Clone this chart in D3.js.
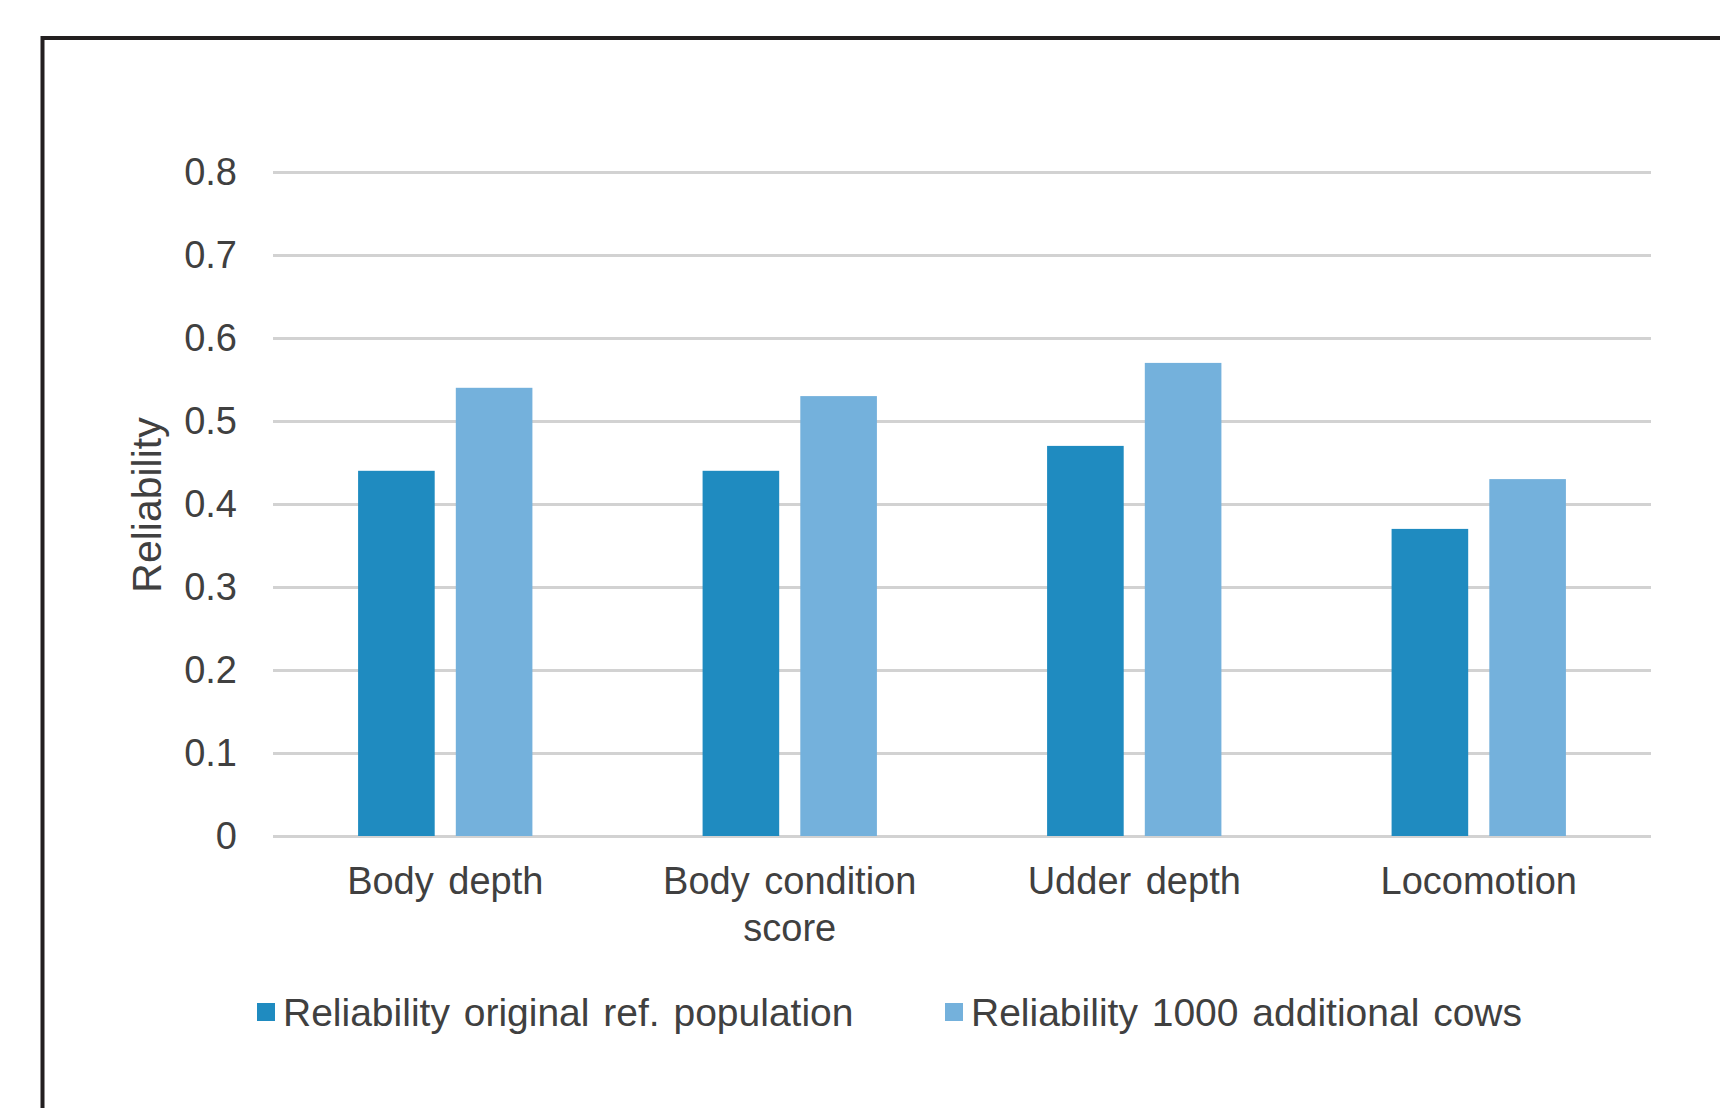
<!DOCTYPE html>
<html>
<head>
<meta charset="utf-8">
<script src="https://cdn.jsdelivr.net/npm/d3@7"></script>
<style>
  body { margin: 0; background: #fff; }
  svg text { font-family: "Liberation Sans", Arial, sans-serif; fill: #404040; }
</style>
</head>
<body>
<div id="vis"></div>
<script>
const FRAME_WIDTH = 1720;
const FRAME_HEIGHT = 1108;
const MARGINS = {left: 273, right: 69, top: 172, bottom: 272};

// data
const CATEGORIES = [["Body depth"], ["Body condition", "score"], ["Udder depth"], ["Locomotion"]];
const SERIES = ["Reliability original ref. population", "Reliability 1000 additional cows"];
const ORIGINAL = [0.44, 0.44, 0.47, 0.37];
const ADDITIONAL = [0.54, 0.53, 0.57, 0.43];
const Y_TICKS = [0, 0.1, 0.2, 0.3, 0.4, 0.5, 0.6, 0.7, 0.8];
const COLORS = ["#1f8bc0", "#74b1dc"];

const VIS_WIDTH = FRAME_WIDTH - MARGINS.left - MARGINS.right;
const VIS_HEIGHT = FRAME_HEIGHT - MARGINS.top - MARGINS.bottom;

const FRAME = d3.select("#vis")
                .append("svg")
                  .attr("width", FRAME_WIDTH)
                  .attr("height", FRAME_HEIGHT);

// outer frame, runs off the right and bottom edge like the scan
FRAME.append("rect")
     .attr("x", 42.5).attr("y", 38)
     .attr("width", FRAME_WIDTH).attr("height", FRAME_HEIGHT)
     .attr("fill", "none")
     .attr("stroke", "#231f20")
     .attr("stroke-width", 4);

const keys = CATEGORIES.map(d => d.join(" "));
const rows = keys.map((k, i) => ({key: k, values: [ORIGINAL[i], ADDITIONAL[i]]}));

const X_SCALE = d3.scaleBand()
                  .domain(keys)
                  .range([0, VIS_WIDTH])
                  .paddingInner(0.494)
                  .paddingOuter(0.247);

const X_INNER = d3.scaleBand()
                  .domain([0, 1])
                  .range([0, X_SCALE.bandwidth()])
                  .paddingInner(0.216);

const Y_SCALE = d3.scaleLinear()
                  .domain([0, 0.8])
                  .range([VIS_HEIGHT, 0]);

const PLOT = FRAME.append("g")
                  .attr("transform", "translate(" + MARGINS.left + "," + MARGINS.top + ")");

// gridlines + tick labels
const yAxis = PLOT.append("g")
    .call(d3.axisLeft(Y_SCALE)
            .tickValues(Y_TICKS)
            .tickSize(-VIS_WIDTH)
            .tickPadding(36)
            .tickFormat(d => d === 0 ? "0" : d3.format(".1f")(d)));
yAxis.select(".domain").remove();
yAxis.selectAll("line").attr("stroke", "#d2d2d2").attr("stroke-width", 3);
yAxis.selectAll("text").attr("font-size", "38px").attr("fill", "#404040");

// bars
PLOT.selectAll(".grp")
    .data(rows)
    .enter()
    .append("g")
      .attr("transform", d => "translate(" + X_SCALE(d.key) + ",0)")
    .selectAll("rect")
    .data(d => d.values.map((v, j) => ({j: j, v: v})))
    .enter()
    .append("rect")
      .attr("x", d => X_INNER(d.j))
      .attr("y", d => Y_SCALE(d.v))
      .attr("width", X_INNER.bandwidth())
      .attr("height", d => VIS_HEIGHT - Y_SCALE(d.v))
      .attr("fill", d => COLORS[d.j]);

// category labels
const xLab = PLOT.selectAll(".xlab")
    .data(CATEGORIES)
    .enter()
    .append("text")
      .attr("text-anchor", "middle")
      .attr("font-size", "38px")
      .attr("word-spacing", "4px")
      .attr("transform", (d, i) => "translate(" + (X_SCALE(keys[i]) + X_SCALE.bandwidth() / 2) + "," + (VIS_HEIGHT + 58) + ")");
xLab.selectAll("tspan")
    .data(d => d)
    .enter()
    .append("tspan")
      .attr("x", 0)
      .attr("dy", (d, i) => i === 0 ? 0 : 47)
      .text(d => d);

// y title
FRAME.append("text")
     .attr("transform", "translate(161,505) rotate(-90)")
     .attr("text-anchor", "middle")
     .attr("font-size", "41px")
     .text("Reliability");

// legend
const LEG_X = [257, 945];
const legend = FRAME.selectAll(".leg")
    .data(SERIES)
    .enter()
    .append("g")
      .attr("transform", (d, i) => "translate(" + LEG_X[i] + ",1012)");
legend.append("rect")
      .attr("x", 0).attr("y", -9)
      .attr("width", 18).attr("height", 18)
      .attr("fill", (d, i) => COLORS[i]);
legend.append("text")
      .attr("x", 26).attr("y", 14)
      .attr("font-size", "39px")
      .attr("word-spacing", "3px")
      .text(d => d);
</script>
</body>
</html>
